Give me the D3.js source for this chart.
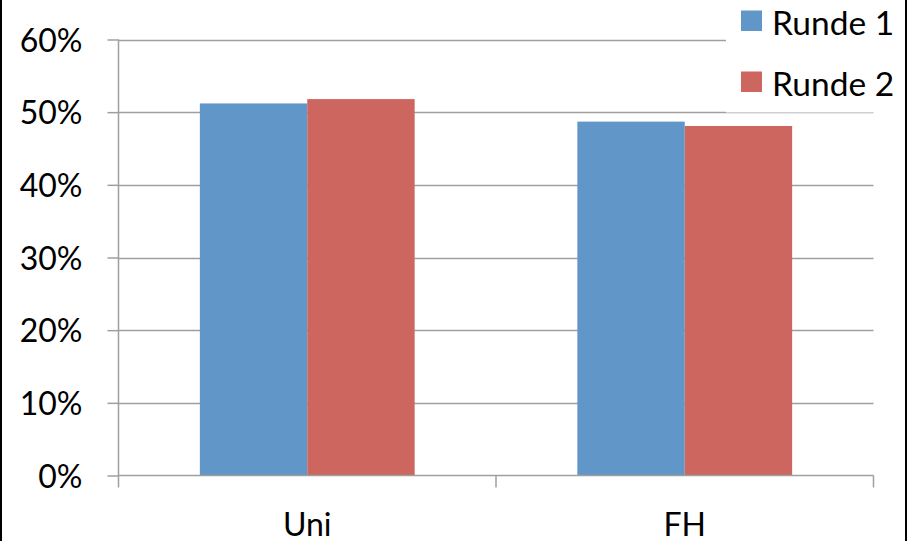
<!DOCTYPE html>
<html>
<head>
<meta charset="utf-8">
<script src="https://cdn.jsdelivr.net/npm/d3@7"></script>
<style>
  html, body { margin: 0; padding: 0; background: #fff; }
  svg { display: block; }
  text { font-family: Lato, "Open Sans", "Liberation Sans", sans-serif; fill: #000; }
</style>
</head>
<body>
<svg id="chart" width="908" height="541"></svg>
<script>
// Chart data
const categories = ["Uni", "FH"];
const seriesNames = ["Runde 1", "Runde 2"];
const runde1 = [0.512, 0.487];
const runde2 = [0.518, 0.481];
const yTicks = [0, 0.1, 0.2, 0.3, 0.4, 0.5, 0.6];
const colors = ["#6196C9", "#CD665F"];

const svg = d3.select("#chart");
const W = 908, H = 541;
const plot = { left: 118.5, right: 873.5, top: 39.5, bottom: 475.5 };

const y = d3.scaleLinear().domain([0, 0.6]).range([plot.bottom, plot.top]);
const x0 = d3.scaleBand().domain(categories).range([plot.left, plot.right]).padding(0);
const gap = x0.step() * 0.2155;
const x1 = d3.scaleBand().domain(seriesNames).range([gap, x0.step() - gap]).padding(0);

const gridColor = "#9f9f9f";

// Horizontal gridlines
svg.append("g")
  .selectAll("line")
  .data(yTicks.slice(1))
  .join("line")
  .attr("x1", plot.left).attr("x2", plot.right)
  .attr("y1", d => Math.round(y(d)) + 0.5).attr("y2", d => Math.round(y(d)) + 0.5)
  .attr("stroke", gridColor).attr("stroke-width", 1.5);

// Bars
const rows = categories.map((c, i) => ({ cat: c, vals: [runde1[i], runde2[i]] }));
const groups = svg.append("g").selectAll("g")
  .data(rows).join("g")
  .attr("transform", d => `translate(${x0(d.cat)},0)`);
groups.selectAll("rect")
  .data(d => d.vals.map((v, k) => ({ name: seriesNames[k], v, k })))
  .join("rect")
  .attr("x", d => x1(d.name))
  .attr("width", x1.bandwidth())
  .attr("y", d => y(d.v))
  .attr("height", d => y(0) - y(d.v))
  .attr("fill", d => colors[d.k]);

// Y axis
const yAxis = d3.axisLeft(y).tickValues(yTicks).tickFormat(d3.format(".0%"))
  .tickSize(11).tickPadding(25);
const gy = svg.append("g").attr("transform", `translate(${plot.left},0)`).call(yAxis);
gy.select(".domain").attr("stroke", gridColor).attr("stroke-width", 1.5)
  .attr("d", `M0,${plot.top}V${plot.bottom}`);
gy.selectAll(".tick line").attr("stroke", gridColor).attr("stroke-width", 1.5);
gy.selectAll(".tick text").style("font-size", "32px").attr("dy", "0.36em")
  .style("font-family", 'Lato, "Open Sans", sans-serif').attr("fill", "#000");

// X axis (category boundaries as ticks)
const xAxis = svg.append("g").attr("transform", `translate(0,${plot.bottom})`);
xAxis.append("line")
  .attr("x1", plot.left).attr("x2", plot.right)
  .attr("stroke", gridColor).attr("stroke-width", 1.5);
const boundaries = [plot.left, ...categories.map(c => x0(c) + x0.bandwidth())];
xAxis.selectAll("line.tk")
  .data(boundaries).join("line").attr("class", "tk")
  .attr("x1", d => d).attr("x2", d => d)
  .attr("y1", 0).attr("y2", 12)
  .attr("stroke", gridColor).attr("stroke-width", 1.5);
xAxis.selectAll("text")
  .data(categories).join("text")
  .attr("x", d => x0(d) + x0.bandwidth() / 2)
  .attr("y", 60)
  .attr("text-anchor", "middle")
  .style("font-size", "32px")
  .text(d => d);

// Legend
const leg = svg.append("g");
leg.append("rect").attr("x", 726).attr("y", 0).attr("width", 180).attr("height", 112.5).attr("fill", "#fff");
seriesNames.forEach((s, k) => {
  const ly = 10.5 + k * 61;
  leg.append("rect").attr("x", 741).attr("y", ly).attr("width", 21).attr("height", 20.5).attr("fill", colors[k]);
  leg.append("text").attr("x", 772).attr("y", ly + 24.5).style("font-size", "33.5px").text(s);
});

// Frame edges
svg.append("line").attr("x1", 1).attr("x2", 1).attr("y1", 0).attr("y2", H).attr("stroke", "#000").attr("stroke-width", 2);
svg.append("line").attr("x1", 906).attr("x2", 906).attr("y1", 0).attr("y2", H).attr("stroke", "#000").attr("stroke-width", 2);
</script>
</body>
</html>
